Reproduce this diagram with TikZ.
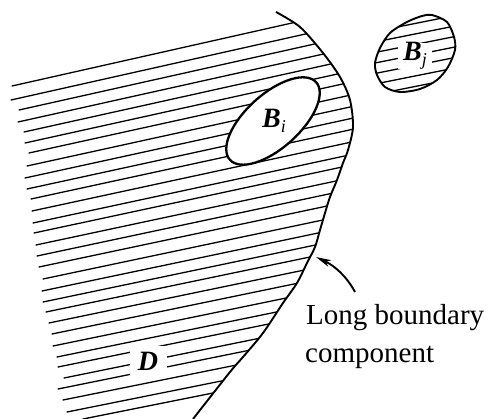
\documentclass[tikz,border=0pt]{standalone}
\usepackage{fontspec}
\setmainfont{Liberation Serif}
\usetikzlibrary{arrows.meta}
\begin{document}
\begin{tikzpicture}[x=1pt,y=-1pt,
  hatch/.style={line width=1.3pt,line cap=round},
  bnd/.style={line width=1.9pt},
  hole/.style={line width=2.3pt},
  lbl/.style={font=\fontsize{29}{34}\selectfont},
  sym/.style={font=\fontsize{28}{32}\selectfont\bfseries\itshape},
  gap/.style={fill=white,inner sep=0pt}]
\useasboundingbox (0,0) rectangle (489,419);
% hatching of D
\begin{scope}
\clip (0,0) -- (276,0) -- plot[smooth] coordinates {(276,12) (300,27) (323,53) (340,77) (350,100) (353,127) (348,150) (343,163) (337,180) (330,197) (325,213) (320,230) (315,247) (307,263) (297,283) (283,303) (263,333) (243,357) (230,372) (193,420)} -- (0,420) -- cycle;
\foreach \x/\y [count=\k] in {12/86,11/100,19/110,18/122,24/132,25/143,29/153,27/166,25/178,27/189,31/199,32/211,33/223,34/233,36/245,37/256,39/267,43/279,42/291,43/302,46/312,49/323,52/334,53/346,57/357,58/367,64/378,58/389,63/400,67/412,83/419}{
  \pgfmathsetmacro\s{0.225-0.025*(\k-1)/30}
  \draw[hatch] (\x,\y) -- ++(420,{-420*\s});
}
\end{scope}
% long boundary component
\draw[bnd] plot[smooth] coordinates {(276,12) (300,27) (323,53) (340,77) (350,100) (353,127) (348,150) (343,163) (337,180) (330,197) (325,213) (320,230) (315,247) (307,263) (297,283) (283,303) (263,333) (243,357) (230,372) (193,419)};
% B_i
\draw[hole,fill=white,rotate around={42:(273,121)}] (273,121) ellipse [x radius=58, y radius=27];
\node[sym] (Bi) at (274,121) {B\raisebox{-0.35ex}{\fontsize{18}{20}\selectfont\mdseries i}};
% B_j
\begin{scope}
\clip plot[smooth cycle] coordinates {(432,15) (447,22) (454,37) (455,50) (448,67) (437,80) (420,89) (400,92) (385,87) (377,75) (375,63) (380,48) (390,33) (407,22) (422,16)};
\foreach \k in {-4,...,4}{
  \draw[hatch] (360,{55+10.5*\k+0.2*55}) -- ++(110,-22);
}
\end{scope}
\node[sym,gap,minimum width=34pt,minimum height=22pt] (Bj) at (415,56) {B\raisebox{-0.35ex}{\fontsize{18}{20}\selectfont\mdseries j}};
\draw[bnd] plot[smooth cycle] coordinates {(432,15) (447,22) (454,37) (455,50) (448,67) (437,80) (420,89) (400,92) (385,87) (377,75) (375,63) (380,48) (390,33) (407,22) (422,16)};
% D
\node[sym,gap,minimum width=37pt,minimum height=30pt] (D) at (148,361) {D};
% label and arrow
\node[lbl,anchor=base west,inner sep=0pt] (l1) at (306,324) {Long boundary};
\node[lbl,anchor=base west,inner sep=0pt] (l2) at (305,362) {component};
\coordinate (atail) at (355,292);
\coordinate (atip) at (316,257);
\draw[line width=1.9pt,-{Stealth[length=15pt,width=7pt,inset=4pt]}] (atail) .. controls (347,277) and (335,266) .. (atip);
\end{tikzpicture}
\end{document}
